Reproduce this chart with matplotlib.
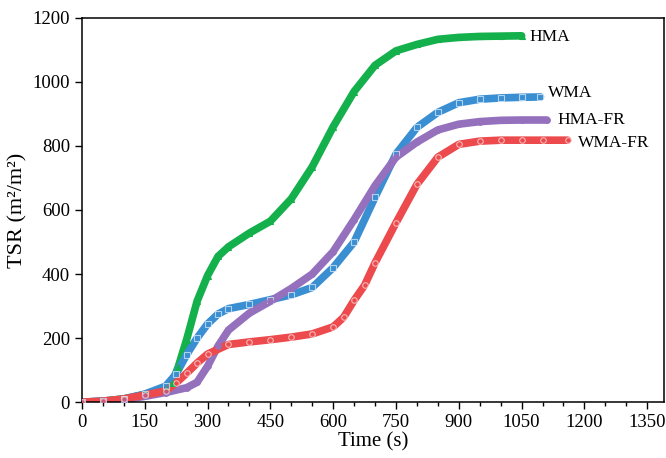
import numpy as np
import matplotlib.pyplot as plt
from matplotlib.ticker import MultipleLocator

plt.rcParams['font.family'] = ['Liberation Serif', 'DejaVu Serif']

# TSR curves
t_hma = [0, 50, 100, 150, 200, 215, 230, 250, 275, 300, 325, 350, 400, 450, 500,
         550, 600, 650, 700, 750, 800, 850, 900, 950, 1000, 1050]
tsr_hma = [0, 3, 10, 24, 42, 60, 110, 195, 315, 395, 455, 485, 528, 565, 635,
           735, 860, 970, 1052, 1097, 1117, 1133, 1139, 1142, 1143, 1144]

t_wma = [0, 50, 100, 150, 200, 225, 250, 275, 300, 325, 350, 400, 450, 500, 550,
         600, 650, 700, 750, 800, 850, 900, 950, 1000, 1050, 1095]
tsr_wma = [0, 3, 10, 25, 50, 88, 148, 200, 244, 275, 292, 305, 320, 335, 358,
           420, 500, 640, 775, 858, 905, 935, 946, 950, 952, 953]

t_hmafr = [0, 50, 100, 150, 200, 250, 275, 300, 325, 350, 400, 450, 500, 550,
           600, 650, 700, 750, 800, 850, 900, 950, 1000, 1050, 1110]
tsr_hmafr = [0, 2, 8, 18, 30, 45, 62, 112, 175, 225, 278, 315, 355, 400,
             470, 570, 676, 765, 812, 850, 868, 876, 880, 881, 881]

t_wmafr = [0, 50, 100, 150, 200, 225, 250, 275, 300, 350, 400, 450, 500, 550,
           600, 625, 650, 675, 700, 750, 800, 850, 900, 950, 1000, 1050, 1100, 1160]
tsr_wmafr = [0, 3, 10, 22, 35, 60, 90, 122, 150, 180, 188, 195, 203, 213,
             235, 265, 318, 365, 435, 560, 680, 765, 805, 815, 818, 818, 818, 818]

series = [
    ("HMA", t_hma, tsr_hma, '#14b04c', '^', True),
    ("WMA", t_wma, tsr_wma, '#3a8fd3', 's', False),
    ("HMA-FR", t_hmafr, tsr_hmafr, '#9470bd', 'o', True),
    ("WMA-FR", t_wmafr, tsr_wmafr, '#ec4a4c', 'o', False),
]
label_pos = {"HMA": (1069, 1140), "WMA": (1112, 964),
             "HMA-FR": (1136, 881), "WMA-FR": (1184, 809)}

fig = plt.figure(figsize=(6.66, 4.58), dpi=100)
ax = fig.add_axes([0.123, 0.122, 0.874, 0.839])

for name, t, v, c, m, filled in series:
    ax.plot(t, v, color=c, lw=5.5, solid_capstyle='round', zorder=2)
    ax.plot(t, v, ls='none', marker=m, ms=4, mec=c if filled else 'white',
            mfc=c, mew=0.8, alpha=0.6 if not filled else 1, zorder=3)
    ax.text(*label_pos[name], name, fontsize=12.5, va='center', ha='left')

ax.set_xlim(0, 1390)
ax.set_ylim(0, 1200)
ax.xaxis.set_major_locator(MultipleLocator(150))
ax.xaxis.set_minor_locator(MultipleLocator(50))
ax.yaxis.set_major_locator(MultipleLocator(200))
ax.tick_params(which='major', direction='out', length=5, width=1, labelsize=13.5)
ax.tick_params(which='minor', direction='out', length=3, width=1)
for s in ax.spines.values():
    s.set_linewidth(1.1)

ax.set_xlabel("Time (s)", fontsize=15, labelpad=1)
ax.set_ylabel("TSR (m\u00b2/m\u00b2)", fontsize=16, labelpad=4)

fig.savefig("out.png", dpi=100)
